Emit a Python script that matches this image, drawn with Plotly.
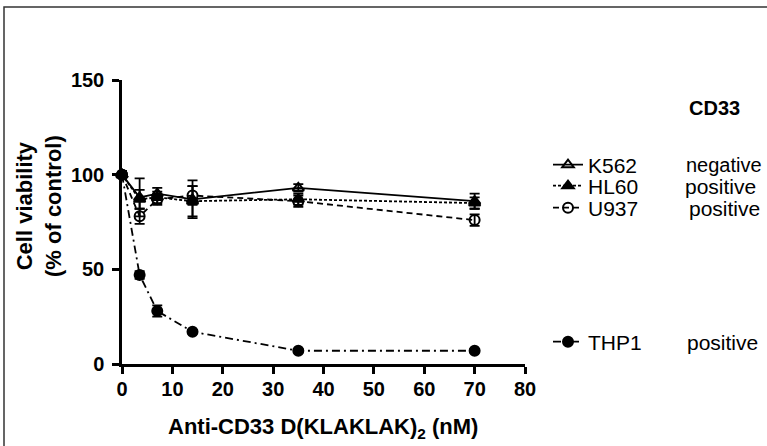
import plotly.graph_objects as go

# ---- data ----
conc = [0, 3.5, 7, 14, 35, 70]

k562 = [100, 88, 90, 87, 93, 86]
k562_err = [2, 10, 3, 10, 2, 4]

hl60 = [100, 87, 88, 86, 87, 85]
hl60_err = [2, 5, 3, 8, 3, 3]

u937 = [100, 78, 87, 89, 86, 76]
u937_err = [2, 4, 3, 5, 3, 3]

thp1 = [100, 47, 28, 17, 7, 7]
thp1_err = [2, 2, 3, 1, 1, 1]

series_names = ["K562", "HL60", "U937", "THP1"]
cd33_status = ["negative", "positive", "positive", "positive"]
x_ticks = [0, 10, 20, 30, 40, 50, 60, 70, 80]
y_ticks = [0, 50, 100, 150]

FONT = "Liberation Sans, Arial, sans-serif"

W, H = 767, 446
L, R, T, B = 122, 242, 80, 82
PW, PH = W - L - R, H - T - B


def px_x(px):
    return (px - L) / PW


def px_y(py):
    return (H - B - py) / PH


fig = go.Figure()

styles = [
    (k562, k562_err, "triangle-up-open", "solid", "legend"),
    (hl60, hl60_err, "triangle-up", "3px,2px", "legend2"),
    (u937, u937_err, "circle-open", "6px,4px", "legend3"),
    (thp1, thp1_err, "circle", "8px,4px,2px,4px", "legend4"),
]

for name, (vals, err, sym, dash, lg) in zip(series_names, styles):
    fig.add_trace(go.Scatter(
        x=conc, y=vals, name=name, mode="lines+markers",
        line=dict(color="black", width=1.8, dash=dash),
        marker=dict(symbol=sym, size=10, color="black",
                    line=dict(color="black", width=2)),
        error_y=dict(type="data", array=err, visible=True,
                     color="black", thickness=1.8, width=5),
        cliponaxis=False,
        legend=lg,
    ))

axis_common = dict(
    showline=True, linecolor="black", linewidth=2.5,
    ticks="outside", ticklen=7, tickwidth=2.5, tickcolor="black",
    showgrid=False, zeroline=False,
    tickfont=dict(family=FONT, size=20, color="black", weight="bold"),
)

fig.update_xaxes(range=[0, 80], tickvals=x_ticks, ticklabelstandoff=-2, **axis_common)
fig.update_yaxes(range=[0, 150], tickvals=y_ticks, ticklabelstandoff=4, **axis_common)

leg_rows = [165, 186, 208, 342]
leg_keys = ["legend", "legend2", "legend3", "legend4"]
status_x = [684, 683, 687, 685]
leg_font = dict(family=FONT, size=21, color="black")
legends = {}
for key, ry in zip(leg_keys, leg_rows):
    legends[key] = dict(
        x=px_x(548), y=px_y(ry), xanchor="left", yanchor="middle",
        font=leg_font, bgcolor="rgba(0,0,0,0)", borderwidth=0,
        itemwidth=30,
    )

title_font = dict(family=FONT, size=22, color="black", weight="bold")
annotations = [
    dict(text="CD33", x=px_x(714), y=px_y(108), xref="paper", yref="paper",
         showarrow=False, xanchor="center", yanchor="middle",
         font=dict(family=FONT, size=20, color="black", weight="bold")),
    dict(text="Cell viability<br>(% of control)", x=px_x(39), y=px_y(206),
         xref="paper", yref="paper", showarrow=False, textangle=-90,
         xanchor="center", yanchor="middle", font=title_font),
    dict(text="Anti-CD33 D(KLAKLAK)<sub>2</sub> (nM)", x=px_x(323), y=px_y(428),
         xref="paper", yref="paper", showarrow=False,
         xanchor="center", yanchor="middle", font=title_font),
]
for i, (st, sx, ry) in enumerate(zip(cd33_status, status_x, leg_rows)):
    f = dict(leg_font)
    if i == 0:
        f["size"] = 20
    annotations.append(dict(
        text=st, x=px_x(sx), y=px_y(ry), xref="paper", yref="paper",
        showarrow=False, xanchor="left", yanchor="middle", font=f))

fig.update_layout(
    width=W, height=H,
    margin=dict(l=L, r=R, t=T, b=B),
    paper_bgcolor="white", plot_bgcolor="white",
    showlegend=True,
    annotations=annotations,
    shapes=[dict(type="rect", xref="paper", yref="paper",
                 x0=px_x(4), x1=px_x(W + 20), y0=px_y(H + 20), y1=px_y(7),
                 line=dict(color="#333", width=1.5), layer="below")],
    **legends,
)

fig.write_html(
    "out.html",
    config={"displayModeBar": False},
    post_script="document.body.style.margin='0px';document.body.style.overflow='hidden';",
)
